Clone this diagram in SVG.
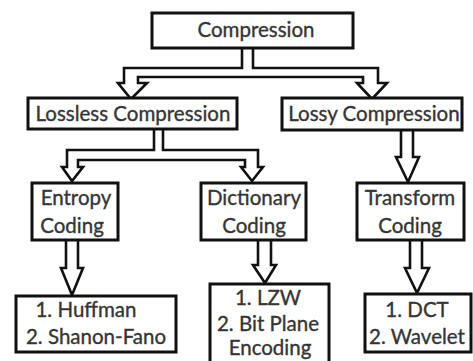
<svg xmlns="http://www.w3.org/2000/svg" width="473" height="361" viewBox="0 0 473 361">
  <style>
    .box { fill: #ffffff; stroke: #111111; stroke-width: 3; }
    .arrow { fill: #ffffff; stroke: #111111; stroke-width: 2.6; stroke-linejoin: miter; }
    .lbl { font-family: Lato, "Open Sans", "Liberation Sans", sans-serif; font-size: 20.5px; fill: #353535; stroke: #353535; stroke-width: 0.35; text-anchor: middle; }
  </style>
  <rect width="473" height="361" fill="#ffffff"/>

  <!-- hollow block arrows -->
  <g id="connectors">
    <!-- Compression splits to both families -->
    <path class="arrow" d="M242,48 V68 H124 V83 H118 L131,99 L147,83 H138 V77 H363 V83 H357 L372,99 L387,83 H378 V68 H253 V48"/>
    <!-- Lossless splits to entropy and dictionary coding -->
    <path class="arrow" d="M154,129 V150 H67 V167 H62 L72,181 L83,167 H78 V160 H245 V167 H241 L252,181 L263,167 H258 V150 H163 V129"/>
    <!-- Lossy to transform coding -->
    <path class="arrow" d="M401,131 V157 H396 L408,182 L419,157 H413 V131"/>
    <!-- Entropy to algorithms -->
    <path class="arrow" d="M66,240 V268 H61 L72,295 L83,268 H78 V240"/>
    <!-- Dictionary to algorithms -->
    <path class="arrow" d="M258,240 V265 H253 L265,283 L276,265 H271 V240"/>
    <!-- Transform to algorithms -->
    <path class="arrow" d="M410,240 V268 H405 L417,293 L429,268 H422 V240"/>
  </g>

  <g id="compression">
    <rect class="box" x="152" y="13" width="201" height="35"/>
    <text class="lbl" x="256" y="37" font-size="22">Compression</text>
  </g>

  <g id="lossless">
    <rect class="box" x="28" y="98" width="209" height="31"/>
    <text class="lbl" x="133" y="121">Lossless Compression</text>
  </g>

  <g id="lossy">
    <rect class="box" x="282" y="98" width="180" height="32"/>
    <text class="lbl" x="374" y="121">Lossy Compression</text>
  </g>

  <g id="entropy">
    <rect class="box" x="32" y="183" width="86" height="57"/>
    <text class="lbl" x="76" y="205">Entropy</text>
    <text class="lbl" x="72" y="233">Coding</text>
  </g>

  <g id="dictionary">
    <rect class="box" x="201" y="183" width="105" height="57"/>
    <text class="lbl" x="254" y="205">Dictionary</text>
    <text class="lbl" x="254" y="233">Coding</text>
  </g>

  <g id="transform">
    <rect class="box" x="357" y="183" width="107" height="57"/>
    <text class="lbl" x="410" y="205">Transform</text>
    <text class="lbl" x="410" y="233">Coding</text>
  </g>

  <g id="entropy-methods">
    <rect class="box" x="16" y="296" width="160" height="56"/>
    <text class="lbl" x="86" y="317">1. Huffman</text>
    <text class="lbl" x="96" y="344">2. Shanon-Fano</text>
  </g>

  <g id="dictionary-methods">
    <rect class="box" x="210" y="284" width="119" height="90"/>
    <text class="lbl" x="268" y="305">1. LZW</text>
    <text class="lbl" x="268" y="331">2. Bit Plane</text>
    <text class="lbl" x="270" y="355">Encoding</text>
  </g>

  <g id="transform-methods">
    <rect class="box" x="365" y="294" width="106" height="58"/>
    <text class="lbl" x="417" y="317">1. DCT</text>
    <text class="lbl" x="417" y="344">2. Wavelet</text>
  </g>
</svg>
